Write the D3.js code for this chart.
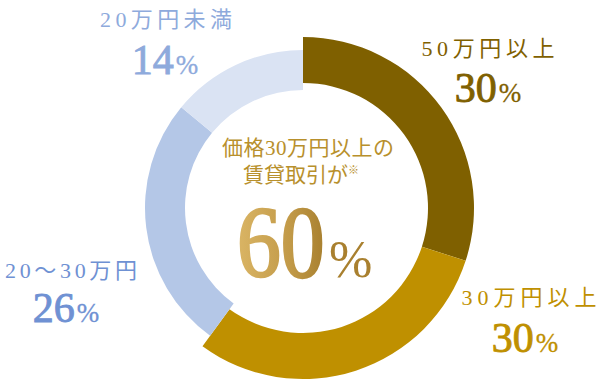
<!DOCTYPE html>
<html>
<head>
<meta charset="utf-8">
<script src="https://cdn.jsdelivr.net/npm/d3@7"></script>
<style>
  html, body { margin: 0; padding: 0; background: #fff; }
  text { font-family: "Liberation Serif", "Noto Sans CJK JP", serif; }
</style>
</head>
<body>
<div id="container"></div>
<script>
const width = 605;
const height = 389;

// data
const categories = ['50万円以上', '30万円以上', '20～30万円', '20万円未満'];
const shares = [30, 30, 26, 14];
const sliceColors = ['#7f6000', '#bf9000', '#b4c7e7', '#dae3f3'];
const labelColors = ['#7f6000', '#bf9000', '#6f91d3', '#8eaadc'];
const headline = ['価格30万円以上の', '賃貸取引が'];
const highlight = 60;

// layout (not data)
const cx = 303, cy = 208;
const ringBig = [125, 171];
const ringSmall = [118, 158];
const labelPos = [
    { x: 488, y: 56, w: 133, nx: 488, ny: 102 },
    { x: 529, y: 305, w: 135, nx: 525, ny: 352 },
    { x: 71, y: 278, w: 132, nx: 66, ny: 322 },
    { x: 166, y: 27, w: 132, nx: 165, ny: 74 }
];

const svg = d3.select('#container')
    .append('svg')
    .attr('width', width)
    .attr('height', height);

const defs = svg.append('defs');
const grad = defs.append('linearGradient')
    .attr('id', 'goldGrad')
    .attr('x1', 0).attr('x2', 1).attr('y1', 0).attr('y2', 0);
grad.append('stop').attr('offset', '0%').attr('stop-color', '#dab565');
grad.append('stop').attr('offset', '60%').attr('stop-color', '#c29a48');
grad.append('stop').attr('offset', '100%').attr('stop-color', '#a8802f');

const pie = d3.pie().sort(null).value(d => d);
const arcs = pie(shares);

const ring = svg.append('g').attr('transform', `translate(${cx},${cy})`);
ring.selectAll('path')
    .data(arcs)
    .enter().append('path')
    .attr('fill', (d, i) => sliceColors[i])
    .attr('d', (d, i) => {
        const r = i < 2 ? ringBig : ringSmall;
        return d3.arc().innerRadius(r[0]).outerRadius(r[1])(d);
    });

// category labels
const labels = svg.append('g');
categories.forEach((c, i) => {
    const p = labelPos[i];
    labels.append('text')
        .attr('x', p.x)
        .attr('y', p.y)
        .attr('text-anchor', 'middle')
        .attr('textLength', p.w)
        .style('font-size', '22px')
        .attr('fill', labelColors[i])
        .text(c);

    const t = labels.append('text')
        .attr('x', p.nx)
        .attr('y', p.ny)
        .attr('text-anchor', 'middle')
        .attr('fill', labelColors[i])
        .attr('stroke', labelColors[i])
        .attr('stroke-width', 0.9);
    t.append('tspan').style('font-size', '42px').text(shares[i]);
    t.append('tspan').style('font-size', '27px').attr('stroke-width', 0.3).attr('dx', 2).text('%');
});

// center text
const center = svg.append('g');
center.append('text')
    .attr('x', 308)
    .attr('y', 155)
    .attr('text-anchor', 'middle')
    .attr('textLength', 172)
    .style('font-size', '21px')
    .attr('fill', '#b8902c')
    .text(headline[0]);

const line2 = center.append('text')
    .attr('x', 301)
    .attr('y', 182)
    .attr('text-anchor', 'middle')
    .style('font-size', '21px')
    .attr('fill', '#b8902c');
line2.append('tspan').text(headline[1]);
line2.append('tspan').style('font-size', '11px').attr('dy', -8).text('※');

center.append('text')
    .attr('transform', 'translate(237,277) scale(0.86,1)')
    .style('font-size', '102px')
    .attr('fill', 'url(#goldGrad)')
    .attr('stroke', 'url(#goldGrad)')
    .attr('stroke-width', 2.4)
    .text(highlight);

center.append('text')
    .attr('x', 329)
    .attr('y', 277)
    .style('font-size', '52px')
    .attr('fill', '#a9802f')
    .text('%');
</script>
</body>
</html>
